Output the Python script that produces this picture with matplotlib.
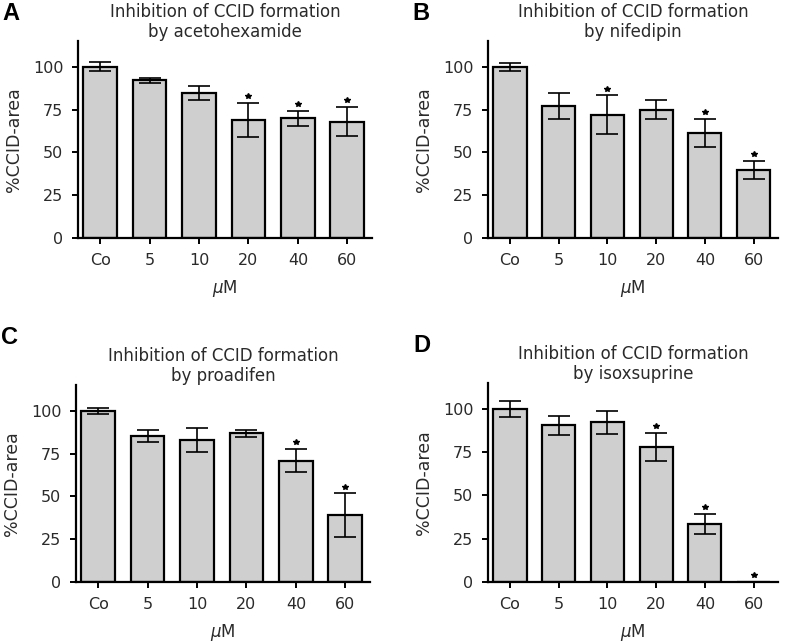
import numpy as np
import matplotlib
matplotlib.use("Agg")
import matplotlib.pyplot as plt

plt.rcParams['font.family'] = ['DejaVu Sans']

categories = ["Co", "5", "10", "20", "40", "60"]

# panel data: mean, error, significance
acet_mean = [100, 92, 84.5, 69, 70, 68]
acet_err = [2.5, 1.5, 4, 10, 4.4, 8.3]
acet_sig = [False, False, False, True, True, True]

nife_mean = [100, 77, 72, 75, 61.3, 39.7]
nife_err = [2.3, 7.7, 11.2, 5.8, 8.1, 5.3]
nife_sig = [False, False, True, False, True, True]

proa_mean = [100, 85.2, 82.9, 86.8, 70.9, 39]
proa_err = [1.8, 3.5, 6.9, 2.1, 6.6, 12.7]
proa_sig = [False, False, False, False, True, True]

isox_mean = [100, 90.6, 92.2, 78.1, 33.6, 0]
isox_err = [4.4, 5.5, 6.7, 8.1, 5.8, 0]
isox_sig = [False, False, False, True, True, True]

panels = [
    ("A", "acetohexamide", acet_mean, acet_err, acet_sig),
    ("B", "nifedipin", nife_mean, nife_err, nife_sig),
    ("C", "proadifen", proa_mean, proa_err, proa_sig),
    ("D", "isoxsuprine", isox_mean, isox_err, isox_sig),
]

W, H = 787, 643
fig = plt.figure(figsize=(W / 100, H / 100), dpi=100)

# axes boxes in pixels: left, right, top, bottom
boxes = [
    (78, 372, 41, 238),
    (488, 778, 41, 238),
    (76, 370, 385, 582),
    (488, 778, 383, 582),
]
letter_pos = [(11, 14), (421, 14), (10, 338), (422, 346)]

text_col = "#2a2a2a"

for (letter, drug, mean, err, sig), (l, r, t, b), (lx, ly) in zip(panels, boxes, letter_pos):
    ax = fig.add_axes([l / W, 1 - b / H, (r - l) / W, (b - t) / H])
    x = np.arange(len(categories))
    ax.bar(x, mean, width=0.68, color="#cfcfcf", edgecolor="black", linewidth=1.6, zorder=2)
    ax.errorbar(x, mean, yerr=err, fmt="none", ecolor="black", elinewidth=1.2,
                capsize=8, capthick=1.2, zorder=3)
    for xi, m, e, s in zip(x, mean, err, sig):
        if s:
            ax.plot(xi, m + e + 4, marker="*", color="black", markersize=4, zorder=4)
    ax.set_xlim(-0.45, 5.5)
    ax.set_ylim(0, 115)
    ax.set_yticks([0, 25, 50, 75, 100])
    ax.set_xticks(x)
    ax.set_xticklabels(categories)
    for sp in ["top", "right"]:
        ax.spines[sp].set_visible(False)
    for sp in ["left", "bottom"]:
        ax.spines[sp].set_linewidth(1.6)
    ax.tick_params(axis="both", direction="out", length=4, width=1.4,
                   labelsize=11.5, labelcolor=text_col)
    ax.tick_params(axis="x", pad=7)
    ax.tick_params(axis="y", pad=6.5)
    ax.set_ylabel("%CCID-area", fontsize=12.5, color=text_col, labelpad=7)
    ax.set_xlabel(r"$\mu$M", fontsize=12, color=text_col, labelpad=7)
    ax.set_title("Inhibition of CCID formation\nby " + drug, fontsize=12,
                 color=text_col, pad=3, linespacing=1.15)
    fig.text(lx / W, 1 - ly / H, letter, fontsize=17, fontweight="bold",
             ha="center", va="center", color="black", family="Liberation Sans")

fig.savefig("out.png", dpi=100)
